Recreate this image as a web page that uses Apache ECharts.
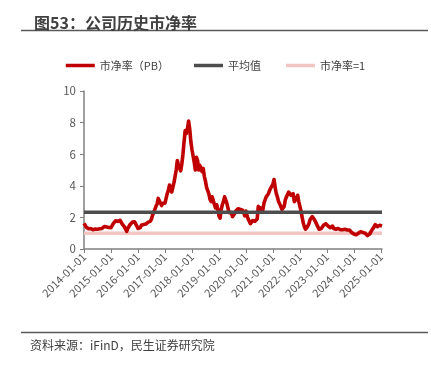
<!DOCTYPE html>
<html>
<head>
<meta charset="utf-8">
<script src="https://cdn.jsdelivr.net/npm/echarts@6/dist/echarts.min.js"></script>
<style>
  html, body { margin: 0; padding: 0; background: #fff; }
  #chart { width: 431px; height: 369px; }
</style>
</head>
<body>
<div id="chart"></div>
<script>
// PB readings, twice a month (1st and 16th)
const pb2014 = [1.62,1.5,1.38,1.32,1.28,1.25,1.3,1.24,1.22,1.28,1.26,1.3,1.25,1.22,1.28,1.32,1.3,1.36,1.42,1.48,1.4,1.32,1.36,1.3];
const pb2015 = [1.35,1.45,1.6,1.7,1.78,1.88,1.75,1.72,1.82,1.7,1.58,1.52,1.4,1.25,1.12,1.3,1.42,1.55,1.65,1.7,1.6,1.72,1.68,1.45];
const pb2016 = [1.3,1.22,1.35,1.5,1.45,1.55,1.6,1.58,1.62,1.7,1.65,1.75,1.9,2.15,2.3,2.5,2.7,2.85,3.2,3.05,2.95,2.75,2.9,2.8];
const pb2017 = [2.9,3.2,3.5,3.7,4.05,3.9,3.6,3.5,4.2,4.6,5.0,5.6,5.3,5.2,4.95,5.4,6.0,6.8,7.5,7.3,7.6,8.1,7.6,6.8];
const pb2018 = [6.3,5.9,5.5,5.0,5.8,5.6,5.0,5.3,5.2,4.9,5.1,4.6,4.3,3.9,4.0,3.5,3.15,3.0,3.3,3.25,2.8,2.6,2.8,2.5];
const pb2019 = [2.1,1.95,2.5,2.8,3.0,3.3,3.35,2.9,2.6,2.3,2.2,2.3,2.05,2.0,2.25,2.4,2.5,2.55,2.6,2.5,2.6,2.45,2.3,2.1];
const pb2020 = [2.4,2.1,1.9,1.75,1.6,1.55,1.8,1.85,1.75,1.65,1.9,2.7,2.4,2.6,2.5,2.45,2.9,3.1,3.3,3.2,3.5,3.7,3.85,3.8];
const pb2021 = [4.1,4.4,3.9,3.5,3.3,3.0,2.9,2.7,2.5,2.4,2.7,3.1,3.3,3.45,3.6,3.65,3.4,3.3,3.5,3.0,2.9,3.2,3.4,3.0];
const pb2022 = [2.7,2.4,2.0,1.65,1.4,1.25,1.35,1.45,1.6,1.85,1.9,2.05,2.0,1.85,1.7,1.55,1.4,1.25,1.2,1.3,1.4,1.5,1.55,1.6];
const pb2023 = [1.5,1.45,1.4,1.35,1.42,1.45,1.3,1.22,1.25,1.28,1.3,1.32,1.22,1.2,1.22,1.2,1.25,1.28,1.2,1.18,1.2,1.12,1.05,1.0];
const pb2024 = [0.95,0.92,0.9,0.95,1.0,1.05,1.1,1.15,1.05,1.0,1.0,0.95,0.85,0.82,0.95,1.05,1.2,1.3,1.4,1.55,1.5,1.42,1.45,1.5];
const pb2025 = [1.55,1.45];

const avgPB = 2.32;   // 平均值
const pbOne = 1;      // 市净率=1

const yTicks = { min: 0, max: 10, step: 2 };

// categories: 1st and 16th of every month
const dates = [];
for (let y = 2014; y <= 2025; y++) {
  const lastMonth = y === 2025 ? 1 : 12;
  for (let m = 1; m <= lastMonth; m++) {
    const mm = String(m).padStart(2, '0');
    dates.push(`${y}-${mm}-01`, `${y}-${mm}-16`);
  }
}

const pbValues = [].concat(pb2014, pb2015, pb2016, pb2017, pb2018, pb2019,
  pb2020, pb2021, pb2022, pb2023, pb2024, pb2025);

const FONT = '"Noto Sans CJK SC", "Noto Sans", sans-serif';
const isYearStart = (i, v) => v.endsWith('-01-01');

const chart = echarts.init(document.getElementById('chart'), null, { renderer: 'canvas' });

chart.setOption({
  animation: false,
  backgroundColor: '#fff',
  textStyle: { fontFamily: FONT },
  title: {
    text: '图53：公司历史市净率',
    left: 29,
    top: 10,
    textStyle: { fontSize: 16, fontWeight: 'bold', color: '#404040', fontFamily: FONT },
  },
  graphic: [
    { type: 'line', shape: { x1: 21, y1: 30.5, x2: 428, y2: 30.5 }, style: { stroke: '#595959', lineWidth: 1.5 } },
    { type: 'line', shape: { x1: 21, y1: 332.5, x2: 428, y2: 332.5 }, style: { stroke: '#595959', lineWidth: 1.5 } },
    {
      type: 'text', left: 30, top: 339,
      style: { text: '资料来源：iFinD，民生证券研究院', fontSize: 12, fill: '#404040', fontFamily: FONT },
    },
  ],
  legend: {
    top: 55,
    left: 'center',
    icon: 'rect',
    itemWidth: 29,
    itemHeight: 3.5,
    itemGap: 25,
    textStyle: { fontSize: 11, color: '#404040', fontFamily: FONT },
    data: ['市净率（PB）', '平均值', '市净率=1'],
  },
  grid: { left: 84, right: 49, top: 91, bottom: 120 },
  xAxis: {
    type: 'category',
    data: dates,
    boundaryGap: false,
    axisLine: { lineStyle: { color: '#7f7f7f', width: 1.5 } },
    axisTick: { interval: isYearStart, length: 4, lineStyle: { color: '#7f7f7f' } },
    axisLabel: {
      interval: isYearStart,
      rotate: 45,
      fontSize: 11,
      color: '#595959',
      margin: 6,
      fontFamily: FONT,
    },
    splitLine: { show: false },
  },
  yAxis: {
    type: 'value',
    min: yTicks.min,
    max: yTicks.max,
    interval: yTicks.step,
    axisLine: { show: true, lineStyle: { color: '#7f7f7f', width: 1.5 } },
    axisTick: { show: true, length: 4, lineStyle: { color: '#7f7f7f' } },
    axisLabel: { fontSize: 11.5, color: '#595959', margin: 8, fontFamily: FONT },
    splitLine: { show: false },
  },
  series: [
    {
      name: '市净率（PB）',
      type: 'line',
      data: pbValues,
      symbol: 'none',
      z: 3,
      color: '#c00000',
      lineStyle: { width: 3.6, color: '#c00000', join: 'round' },
    },
    {
      name: '平均值',
      type: 'line',
      data: dates.map(() => avgPB),
      symbol: 'none',
      z: 4,
      color: '#4d4d4d',
      lineStyle: { width: 3.5, color: '#4d4d4d' },
    },
    {
      name: '市净率=1',
      type: 'line',
      data: dates.map(() => pbOne),
      symbol: 'none',
      z: 2,
      color: '#f2c4c2',
      lineStyle: { width: 3.5, color: '#f2c4c2' },
    },
  ],
});
</script>
</body>
</html>
